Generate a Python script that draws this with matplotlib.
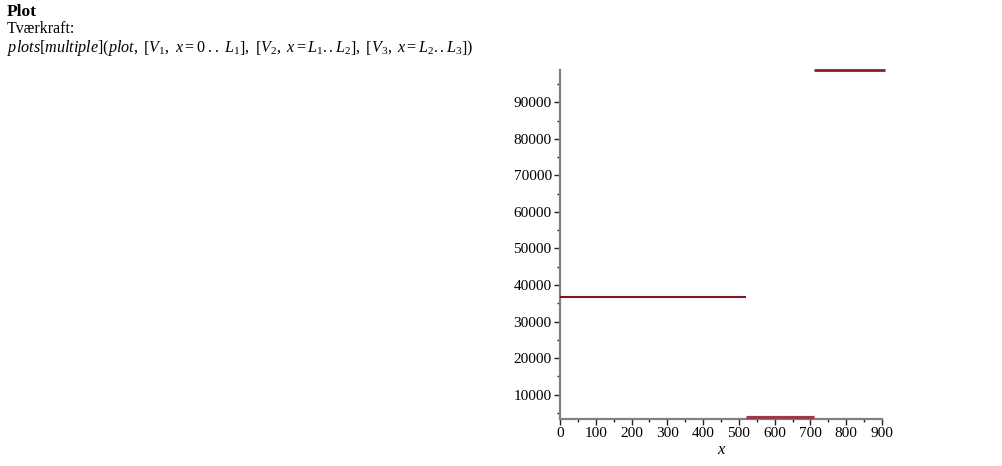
import matplotlib.pyplot as plt
from matplotlib.ticker import MultipleLocator

# piecewise shear force (Tværkraft) segments: [start, end] and value
seg_x = [(0, 520), (520, 710), (710, 908)]
seg_v = [36700, 3900, 98830]
x_ticks = [0, 100, 200, 300, 400, 500, 600, 700, 800, 900]
y_ticks = [10000, 20000, 30000, 40000, 50000, 60000, 70000, 80000, 90000]

plt.rcParams['mathtext.fontset'] = 'custom'
plt.rcParams['mathtext.rm'] = 'Liberation Serif'
plt.rcParams['mathtext.it'] = 'Liberation Serif:italic'
plt.rcParams['font.family'] = 'Liberation Serif'

fig = plt.figure(figsize=(10.02, 4.66), dpi=100)
fig.text(7/1002, 1 - 12/466, "Plot", fontsize=12.5, fontweight='bold', va='center')
fig.text(7/1002, 1 - 29/466, "Tværkraft:", fontsize=11.5, va='center')
fig.text(7/1002, 1 - 48/466,
         r"$plots[multiple]\left(plot,\ \left[V_1,\ x=0\ ..\ L_{\mathit{1}}\right],\ "
         r"\left[V_2,\ x=L_{\mathit{1}}..L_2\right],\ \left[V_3,\ x=L_2..L_3\right]\right)$",
         fontsize=11.6, va='center')

ax = fig.add_axes([560/1002, 1 - 419/466, (882 - 560)/1002, (419 - 70)/466])
widths = [1.5, 2.3, 2.0]
colors = ['#7e1424', '#9c3a46', '#8c1c2c']
for (x0, x1), v, w, c in zip(seg_x, seg_v, widths, colors):
    ax.plot([x0, x1], [v, v], color=c, lw=w, clip_on=False, solid_capstyle='butt', zorder=5)

ax.set_xlim(0, 900)
ax.set_ylim(3350, 98830)
ax.set_xticks(x_ticks)
ax.set_yticks(y_ticks)
ax.xaxis.set_minor_locator(MultipleLocator(50))
ax.yaxis.set_minor_locator(MultipleLocator(5000))
ax.tick_params(which='major', direction='out', length=4, width=1, labelsize=11, pad=2, color='#222222')
ax.tick_params(which='minor', direction='out', length=2, width=1, color='#222222')
for s in ['top', 'right']:
    ax.spines[s].set_visible(False)
for s in ['left', 'bottom']:
    ax.spines[s].set_color('#808080')
    ax.spines[s].set_linewidth(1.6)
ax.set_xlabel("x", fontstyle='italic', fontsize=12, labelpad=1)
ax.patch.set_alpha(0)

fig.savefig("out.png", dpi=100)
